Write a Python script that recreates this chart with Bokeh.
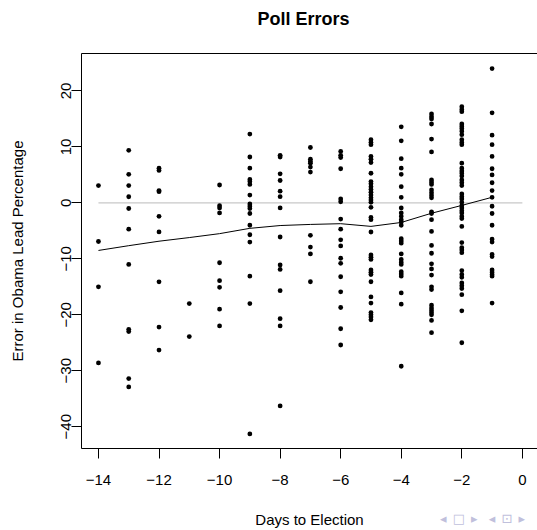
from bokeh.plotting import figure
from bokeh.models import LinearAxis, FixedTicker, Range1d, Div
from bokeh.layouts import column
from bokeh.embed import file_html
from bokeh.resources import INLINE

# ---- data (error in Obama lead, by days to election) ----
days = [-14, -13, -12, -11, -10, -9, -8, -7, -6, -5, -4, -3, -2, -1]

err_m14 = [3.1, -6.9, -15.0, -28.6]
err_m13 = [9.4, 5.1, 3.1, 1.1, -1.0, -4.7, -11.0, -22.6, -23.0, -31.4, -32.9]
err_m12 = [6.2, 5.8, 2.2, 2.0, -2.4, -5.2, -14.1, -22.2, -26.3]
err_m11 = [-18.0, -23.9]
err_m10 = [3.2, -0.5, -0.9, -1.8, -10.7, -13.9, -15.1, -19.0, -22.0]
err_m9 = [12.3, 8.2, 6.2, 4.2, 3.8, 3.3, 1.4, -0.2, -0.6, -1.0, -1.9, -4.0, -5.7, -7.0,
          -13.1, -18.0, -41.3]
err_m8 = [8.5, 8.2, 5.2, 4.0, 2.1, 1.1, -0.9, -6.1, -11.1, -11.9, -15.7, -20.7, -22.0, -36.3]
err_m7 = [9.9, 7.8, 7.4, 7.1, 6.4, 5.5, -5.8, -7.9, -9.1, -14.1]
err_m6 = [9.2, 8.5, 8.1, 6.1, 0.7, 0.2, -2.9, -4.7, -6.6, -7.7, -9.9, -10.8, -13.2, -15.9,
          -18.7, -22.5, -25.4]
err_m5 = [11.3, 10.8, 10.4, 8.3, 7.8, 7.2, 5.3, 3.8, 3.4, 2.9, 2.4, 1.9, 1.4, 0.9, 0.5, 0.1,
          -0.8, -2.6, -3.0, -5.2, -9.3, -9.7, -10.1, -12.0, -12.4, -12.8, -14.1, -16.8,
          -17.9, -19.6, -20.0, -20.4, -20.9]
err_m4 = [13.6, 11.1, 7.9, 6.2, 5.1, 2.9, 1.0, -0.9, -1.8, -2.4, -3.0, -3.4, -4.0, -6.4,
          -6.8, -7.2, -9.1, -10.1, -10.6, -11.0, -12.3, -12.7, -13.1, -16.1, -18.1, -29.2]
err_m3 = [15.9, 15.4, 15.0, 14.1, 11.4, 9.1, 4.1, 3.7, 3.3, 2.3, 1.8, 1.35, 0.9, -1.6, -1.9,
          -3.0, -5.1, -7.6, -9.0, -10.9, -11.8, -12.9, -15.0, -15.5, -18.3, -18.8, -19.2,
          -19.6, -20.0, -21.0, -23.2]
err_m2 = [17.2, 16.7, 16.3, 14.1, 13.7, 13.3, 12.8, 12.2, 11.3, 10.8, 10.4, 7.1, 6.2, 5.7,
          5.3, 4.8, 4.1, 3.6, 3.1, 1.6, 1.1, 0.7, 0.1, -0.5, -0.9, -1.4, -1.8, -2.4, -2.8,
          -4.2, -7.1, -8.0, -8.4, -8.9, -12.1, -12.8, -13.3, -14.3, -14.8, -15.3, -16.4,
          -19.3, -25.0]
err_m1 = [24.0, 16.1, 12.1, 10.4, 8.3, 6.1, 5.0, 3.6, 2.2, 1.0, -0.6, -1.9, -4.0, -6.5,
          -7.0, -9.2, -9.6, -12.0, -12.4, -12.8, -13.1, -17.9]

# smoothed (lowess) curve, one value per day
smooth_vals = [-8.5, -7.65, -6.85, -6.2, -5.5, -4.55, -4.05, -3.85, -3.72, -4.2, -3.5,
               -1.85, -0.45, 1.0]

# zero reference segment
ref_x = [-14, 0]
ref_y = [0, 0]

x_ticks = [-14, -12, -10, -8, -6, -4, -2, 0]
x_tick_labels = ["\u221214", "\u221212", "\u221210", "\u22128", "\u22126", "\u22124", "\u22122", "0"]
y_ticks = [-40, -30, -20, -10, 0, 10, 20]
y_tick_labels = ["\u221240", "\u221230", "\u221220", "\u221210", "0", "10", "20"]

columns = [err_m14, err_m13, err_m12, err_m11, err_m10, err_m9, err_m8, err_m7,
           err_m6, err_m5, err_m4, err_m3, err_m2, err_m1]
xs, ys = [], []
for d, col in zip(days, columns):
    xs.extend([d] * len(col))
    ys.extend(col)

FONT = "Liberation Sans"

p = figure(width=537, height=530,
           x_range=Range1d(-14.56, 0.50), y_range=Range1d(-43.9, 26.7),
           output_backend="svg", toolbar_location=None,
           min_border_left=81, min_border_right=0, min_border_top=53, min_border_bottom=78)
p.grid.visible = False
p.outline_line_color = None
p.background_fill_color = "white"
p.border_fill_color = "white"

p.line(ref_x, ref_y, line_color="#c8c8c8", line_width=1.2)
p.scatter(xs, ys, size=4.8, fill_color="black", line_color="black", line_width=0)
p.line(days, smooth_vals, line_color="black", line_width=1)

# title (a blank second line lifts it away from the box)
p.title.text = "Poll Errors\n "
p.title.text_font = FONT
p.title.text_font_size = "18px"
p.title.text_font_style = "bold"
p.title.align = "left"
p.title.offset = 176
p.title.vertical_align = "top"
p.title.standoff = 6
p.title.text_color = "black"

for ax in (p.xaxis[0], p.yaxis[0]):
    ax.axis_line_color = "black"
    ax.axis_line_width = 1
    ax.major_tick_line_color = "black"
    ax.major_tick_out = 10
    ax.major_tick_in = 0
    ax.minor_tick_line_color = None
    ax.major_label_text_font = FONT
    ax.major_label_text_font_size = "15px"
    ax.major_label_text_color = "black"
    ax.axis_label_text_font = FONT
    ax.axis_label_text_font_size = "15px"
    ax.axis_label_text_font_style = "normal"
    ax.axis_label_text_color = "black"

p.xaxis.ticker = FixedTicker(ticks=x_ticks)
p.xaxis.major_label_overrides = dict(zip(x_ticks, x_tick_labels))
p.xaxis.axis_label = "Days to Election"
p.xaxis.major_label_standoff = 16
p.xaxis.axis_label_standoff = 23

p.yaxis.ticker = FixedTicker(ticks=y_ticks)
p.yaxis.major_label_orientation = "vertical"
p.yaxis.major_label_overrides = dict(zip(y_ticks, y_tick_labels))
p.yaxis.axis_label = "Error in Obama Lead Percentage"
p.yaxis.major_label_standoff = 0
p.yaxis.axis_label_standoff = 33

# top border line of the box
top = LinearAxis(ticker=FixedTicker(ticks=[]), axis_line_color="black",
                 major_tick_line_color=None, minor_tick_line_color=None,
                 major_label_text_font_size="0px", major_label_standoff=0)
p.add_layout(top, "above")

# slide navigation symbols (bottom right)
nav = Div(text="\u25c2 \u25a1 \u25b8&nbsp;&nbsp;\u25c2 \u22a1 \u25b8", width=96, height=16,
          styles={"margin-top": "-20px", "margin-left": "440px", "color": "#c0c0dc",
                  "font-family": "DejaVu Sans", "font-size": "13px", "letter-spacing": "1px",
                  "white-space": "nowrap"})

layout = column(p, nav, spacing=0)
open("out.html", "w").write(file_html(layout, INLINE))
